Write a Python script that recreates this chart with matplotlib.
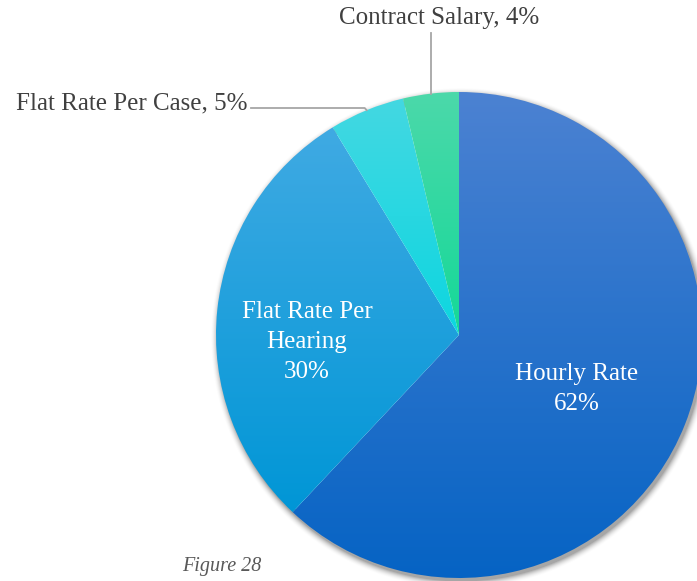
import numpy as np
import matplotlib
matplotlib.use("Agg")
import matplotlib.pyplot as plt
from matplotlib.colors import LinearSegmentedColormap

# ---- data ----
categories = ["Hourly Rate", "Flat Rate Per Hearing", "Flat Rate Per Case", "Contract Salary"]
values = [62.0, 29.3, 5.0, 3.7]
pct_labels = ["62%", "30%", "5%", "4%"]
top_colors = ["#4c82d2", "#40aae3", "#44d8e2", "#4cd9aa"]
bottom_colors = ["#0563c4", "#0096d6", "#0cd6e0", "#14d898"]

W, H = 697, 581
fig = plt.figure(figsize=(W / 100, H / 100), dpi=100)
ax = fig.add_axes([0, 0, 1, 1])
serif = ["Liberation Serif", "DejaVu Serif"]

cx, cy, R = 459, 581 - 335, 243

# soft shadow
yy, xx = np.mgrid[0:H, 0:W]
xs = xx + 0.5
ys = (H - yy) - 0.5
d = np.hypot(xs - (cx + 2), ys - (cy - 3)) - R
a = np.clip(1 - d / 8.0, 0, 1) ** 2 * 0.35
a[d < -5] = 0
shadow = np.zeros((H, W, 4))
shadow[..., 3] = a
ax.imshow(shadow, extent=(0, W, 0, H), origin="upper", zorder=0.5, interpolation="bilinear")

wedges, _ = ax.pie(values, center=(cx, cy), radius=R, startangle=90, counterclock=False,
                   wedgeprops=dict(linewidth=0), frame=True)

for w, c0, c1 in zip(wedges, top_colors, bottom_colors):
    w.set_facecolor("none")
    verts = w.get_patch_transform().transform(w.get_path().vertices)
    y0, y1 = verts[:, 1].min(), verts[:, 1].max()
    x0, x1 = verts[:, 0].min(), verts[:, 0].max()
    cmap = LinearSegmentedColormap.from_list("g", [c1, c0])
    grad = np.linspace(1, 0, 256).reshape(-1, 1)
    im = ax.imshow(grad, cmap=cmap, extent=(x0 - 2, x1 + 2, y0 - 2, y1 + 2), origin="upper",
                   aspect="auto", zorder=1, interpolation="bilinear", vmin=0, vmax=1)
    im.set_clip_path(w)

ax.set_xlim(0, W)
ax.set_ylim(0, H)
ax.set_aspect("auto")
ax.axis("off")

fs = 18
# inside labels
ax.text(577, 581 - 389, f"{categories[0]}\n{pct_labels[0]}", ha="center", va="center",
        color="white", fontsize=fs, family=serif, linespacing=1.45, zorder=3)
ax.text(307, 581 - 342, "Flat Rate Per\nHearing\n" + pct_labels[1], ha="center", va="center",
        color="white", fontsize=fs, family=serif, linespacing=1.45, zorder=3)

# outside labels with leader lines
def edge_point(frac_mid):
    ang = np.deg2rad(90 - 360 * frac_mid)
    return cx + R * np.cos(ang), cy + R * np.sin(ang)

tot = sum(values)
mid_case = (values[0] + values[1] + values[2] / 2) / tot
mid_contract = (values[0] + values[1] + values[2] + values[3] / 2) / tot
px, py = edge_point(mid_case)
ax.plot([251, px - 2, px], [581 - 108, 581 - 108, py], color="#a6a6a6", lw=1.3, zorder=3)
ax.text(248, 581 - 103, f"{categories[2]}, {pct_labels[2]}", ha="right", va="center",
        color="#404040", fontsize=fs, family=serif, zorder=3)
qx, qy = edge_point(mid_contract)
ax.plot([qx, qx], [581 - 33, qy], color="#a6a6a6", lw=1.3, zorder=3)
ax.text(439, 581 - 18, f"{categories[3]}, {pct_labels[3]}", ha="center", va="center",
        color="#404040", fontsize=fs, family=serif, zorder=3)

ax.text(222, 581 - 566, "Figure 28", ha="center", va="center", color="#595959",
        fontsize=14.5, family=serif, style="italic", zorder=3)

fig.savefig("out.png", dpi=100)
